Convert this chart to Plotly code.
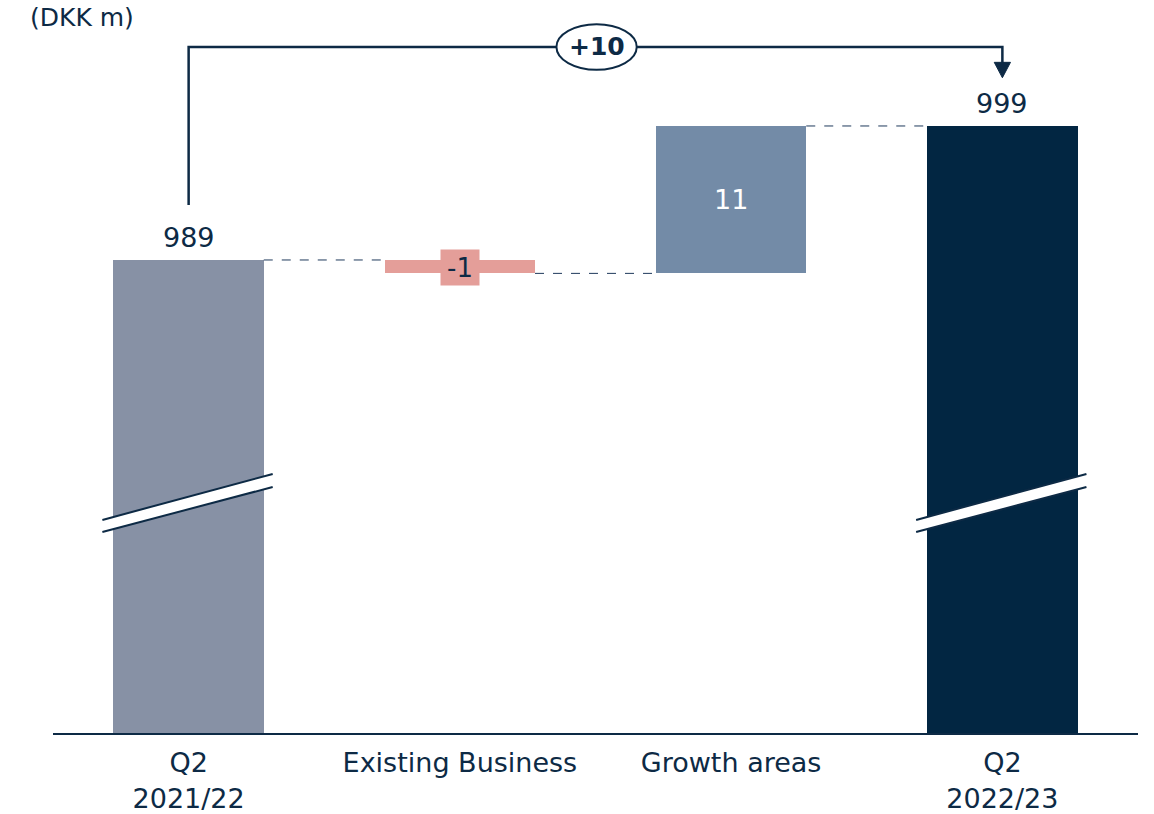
import plotly.graph_objects as go

# ---- data ----
categories = ["Q2<br>2021/22", "Existing Business", "Growth areas", "Q2<br>2022/23"]
start_value = 989
changes = [-1, 11]
end_value = 999
total_change_label = "+10"
unit_label = "(DKK m)"
axis_floor = 953.7  # broken axis: bars start here

NAVY = "#0d2a45"
bar_colors = ["#8791a5", "#e49e99", "#738ba7", "#022642"]
FONT = "DejaVu Sans"

# derived waterfall geometry
bases, heights = [], []
bases.append(axis_floor); heights.append(start_value - axis_floor)
running = start_value
for c in changes:
    lo = min(running, running + c)
    bases.append(lo); heights.append(abs(c))
    running += c
bases.append(axis_floor); heights.append(end_value - axis_floor)
tops = [b + h for b, h in zip(bases, heights)]
xs = list(range(len(categories)))
BW = 0.554

fig = go.Figure()
fig.add_trace(go.Bar(
    x=xs, y=heights, base=bases, width=BW,
    marker=dict(color=bar_colors, line=dict(width=0)),
    hoverinfo="skip", showlegend=False,
))

shapes = []
annotations = []

# dashed connectors
levels = [start_value]
r = start_value
for c in changes:
    r += c
    levels.append(r)
for i in range(len(categories) - 1):
    shapes.append(dict(type="line", xref="x", yref="y",
                       x0=i + BW / 2, x1=i + 1 - BW / 2, y0=levels[i], y1=levels[i],
                       line=dict(color="#1f3a5c", width=1, dash="dash")))

# axis break marks on the total bars
for xc in [0, 3]:
    xl, xr = xc - 0.318, xc + 0.31
    shapes.append(dict(type="path", xref="x", yref="y",
                       path=f"M {xl},969.6 L {xr},973.03 L {xr},972.06 L {xl},968.7 Z",
                       fillcolor="white", line=dict(width=0)))
    shapes.append(dict(type="line", xref="x", yref="y", x0=xl, x1=xr, y0=969.6, y1=973.03,
                       line=dict(color=NAVY, width=2)))
    shapes.append(dict(type="line", xref="x", yref="y", x0=xl, x1=xr, y0=968.7, y1=972.06,
                       line=dict(color=NAVY, width=2)))

# bracket with arrow
top_y = 1004.9
shapes.append(dict(type="path", xref="x", yref="y",
                   path=f"M 0,993.1 L 0,{top_y} L 3,{top_y} L 3,1003.7",
                   line=dict(color=NAVY, width=2.5)))
shapes.append(dict(type="path", xref="x", yref="y",
                   path="M 2.97,1003.75 L 3.03,1003.75 L 3,1002.6 Z",
                   fillcolor=NAVY, line=dict(color=NAVY, width=1)))
shapes.append(dict(type="circle", xref="x", yref="y",
                   x0=1.504 - 0.148, x1=1.504 + 0.148, y0=1003.2, y1=1006.6,
                   fillcolor="white", line=dict(color=NAVY, width=2)))

annotations.append(dict(x=1.504, y=top_y, xref="x", yref="y", text=f"<b>{total_change_label}</b>",
                        showarrow=False, font=dict(family=FONT, size=25, color=NAVY)))

# value labels
annotations.append(dict(x=0, y=tops[0], xref="x", yref="y", text=str(start_value), showarrow=False,
                        yanchor="middle", yshift=22, font=dict(family=FONT, size=27, color=NAVY)))
annotations.append(dict(x=3, y=tops[3], xref="x", yref="y", text=str(end_value), showarrow=False,
                        yanchor="middle", yshift=22, font=dict(family=FONT, size=27, color=NAVY)))
annotations.append(dict(x=1, y=bases[1] + heights[1] / 2, xref="x", yref="y", text=str(changes[0]),
                        showarrow=False, yshift=-1, width=38, height=35, borderpad=0,
                        bgcolor=bar_colors[1], font=dict(family=FONT, size=26, color=NAVY)))
annotations.append(dict(x=2, y=bases[2] + heights[2] / 2, xref="x", yref="y", text=str(changes[1]),
                        showarrow=False, font=dict(family=FONT, size=27, color="white")))

annotations.append(dict(x=-0.023, y=1.003, xref="paper", yref="paper", text=unit_label,
                        showarrow=False, xanchor="left", yanchor="middle",
                        font=dict(family=FONT, size=25, color=NAVY)))

fig.update_layout(
    width=1154, height=814,
    margin=dict(l=53, r=16, t=20, b=81),
    paper_bgcolor="white", plot_bgcolor="white",
    shapes=shapes, annotations=annotations,
    bargap=0,
    xaxis=dict(tickvals=xs, ticktext=categories, range=[-0.5, 3.5], automargin=False,
               showline=True, linecolor=NAVY, linewidth=2, showgrid=False, zeroline=False,
               ticks="", ticklabelstandoff=5,
               tickfont=dict(family=FONT, size=27, color=NAVY)),
    yaxis=dict(range=[axis_floor, axis_floor + 713 / 13.4], visible=False, showgrid=False,
               automargin=False),
)

fig.write_html("out.html")
